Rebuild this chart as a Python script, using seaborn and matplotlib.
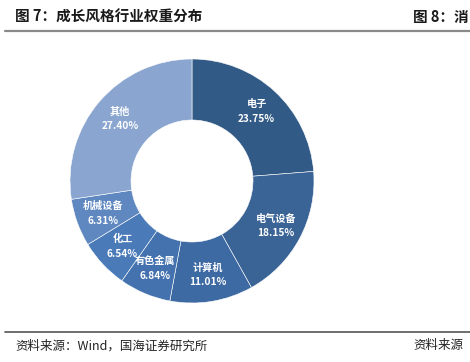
import numpy as np
import matplotlib
matplotlib.use("Agg")
import matplotlib.pyplot as plt
import seaborn as sns
from matplotlib.lines import Line2D

categories = ["电子", "电气设备", "计算机", "有色金属", "化工", "机械设备", "其他"]
values = [23.75, 18.15, 11.01, 6.84, 6.54, 6.31, 27.40]
colors = ["#325A86", "#3B6496", "#3E6AA3", "#4472AE", "#4A7BB8", "#5F88C0", "#8AA5CF"]

title_left = "图 7：成长风格行业权重分布"
title_right = "图 8：消"
source_left = "资料来源：Wind，国海证券研究所"
source_right = "资料来源"

sns.set_theme(style="white")
plt.rcParams['font.family'] = ['Noto Sans CJK SC', 'DejaVu Sans']

W, H = 470, 362
fig = plt.figure(figsize=(W / 100, H / 100), dpi=100)
fig.patch.set_facecolor("white")

cx, cy, R = 192, 181, 122
ax = fig.add_axes([(cx - R) / W, (H - cy - R) / H, 2 * R / W, 2 * R / H])
wedges, _ = ax.pie(values, colors=sns.color_palette(colors), startangle=90, counterclock=False,
                   wedgeprops=dict(width=0.5, edgecolor="white", linewidth=0.4))
ax.set_aspect("equal")
ax.set_xlim(-1, 1)
ax.set_ylim(-1, 1)
ax.axis("off")

for w, cat, v in zip(wedges, categories, values):
    ang = np.deg2rad((w.theta1 + w.theta2) / 2)
    r = 0.78
    x, y = r * np.cos(ang), r * np.sin(ang)
    ax.text(x, y, f"{cat}\n{v:.2f}%", ha="center", va="center", color="white",
            fontsize=7.3, fontweight="bold", linespacing=1.6)

# header
fig.text(15 / W, 1 - 17 / H, title_left, ha="left", va="center", fontsize=10.5,
         fontweight="bold", color="#1a1a1a")
fig.text(413 / W, 1 - 17 / H, title_right, ha="left", va="center", fontsize=10.5,
         fontweight="bold", color="#1a1a1a")
fig.add_artist(Line2D([5 / W, 1], [1 - 31 / H, 1 - 31 / H], color="#8a8a8a", linewidth=1.6,
                      transform=fig.transFigure))

# footer
fig.add_artist(Line2D([5 / W, 1], [1 - 332 / H, 1 - 332 / H], color="#555555", linewidth=1.2,
                      transform=fig.transFigure))
fig.text(15 / W, 1 - 346 / H, source_left, ha="left", va="center", fontsize=9, color="#222222")
fig.text(413 / W, 1 - 346 / H, source_right, ha="left", va="center", fontsize=9, color="#222222")

fig.savefig("out.png", dpi=100, facecolor="white")
